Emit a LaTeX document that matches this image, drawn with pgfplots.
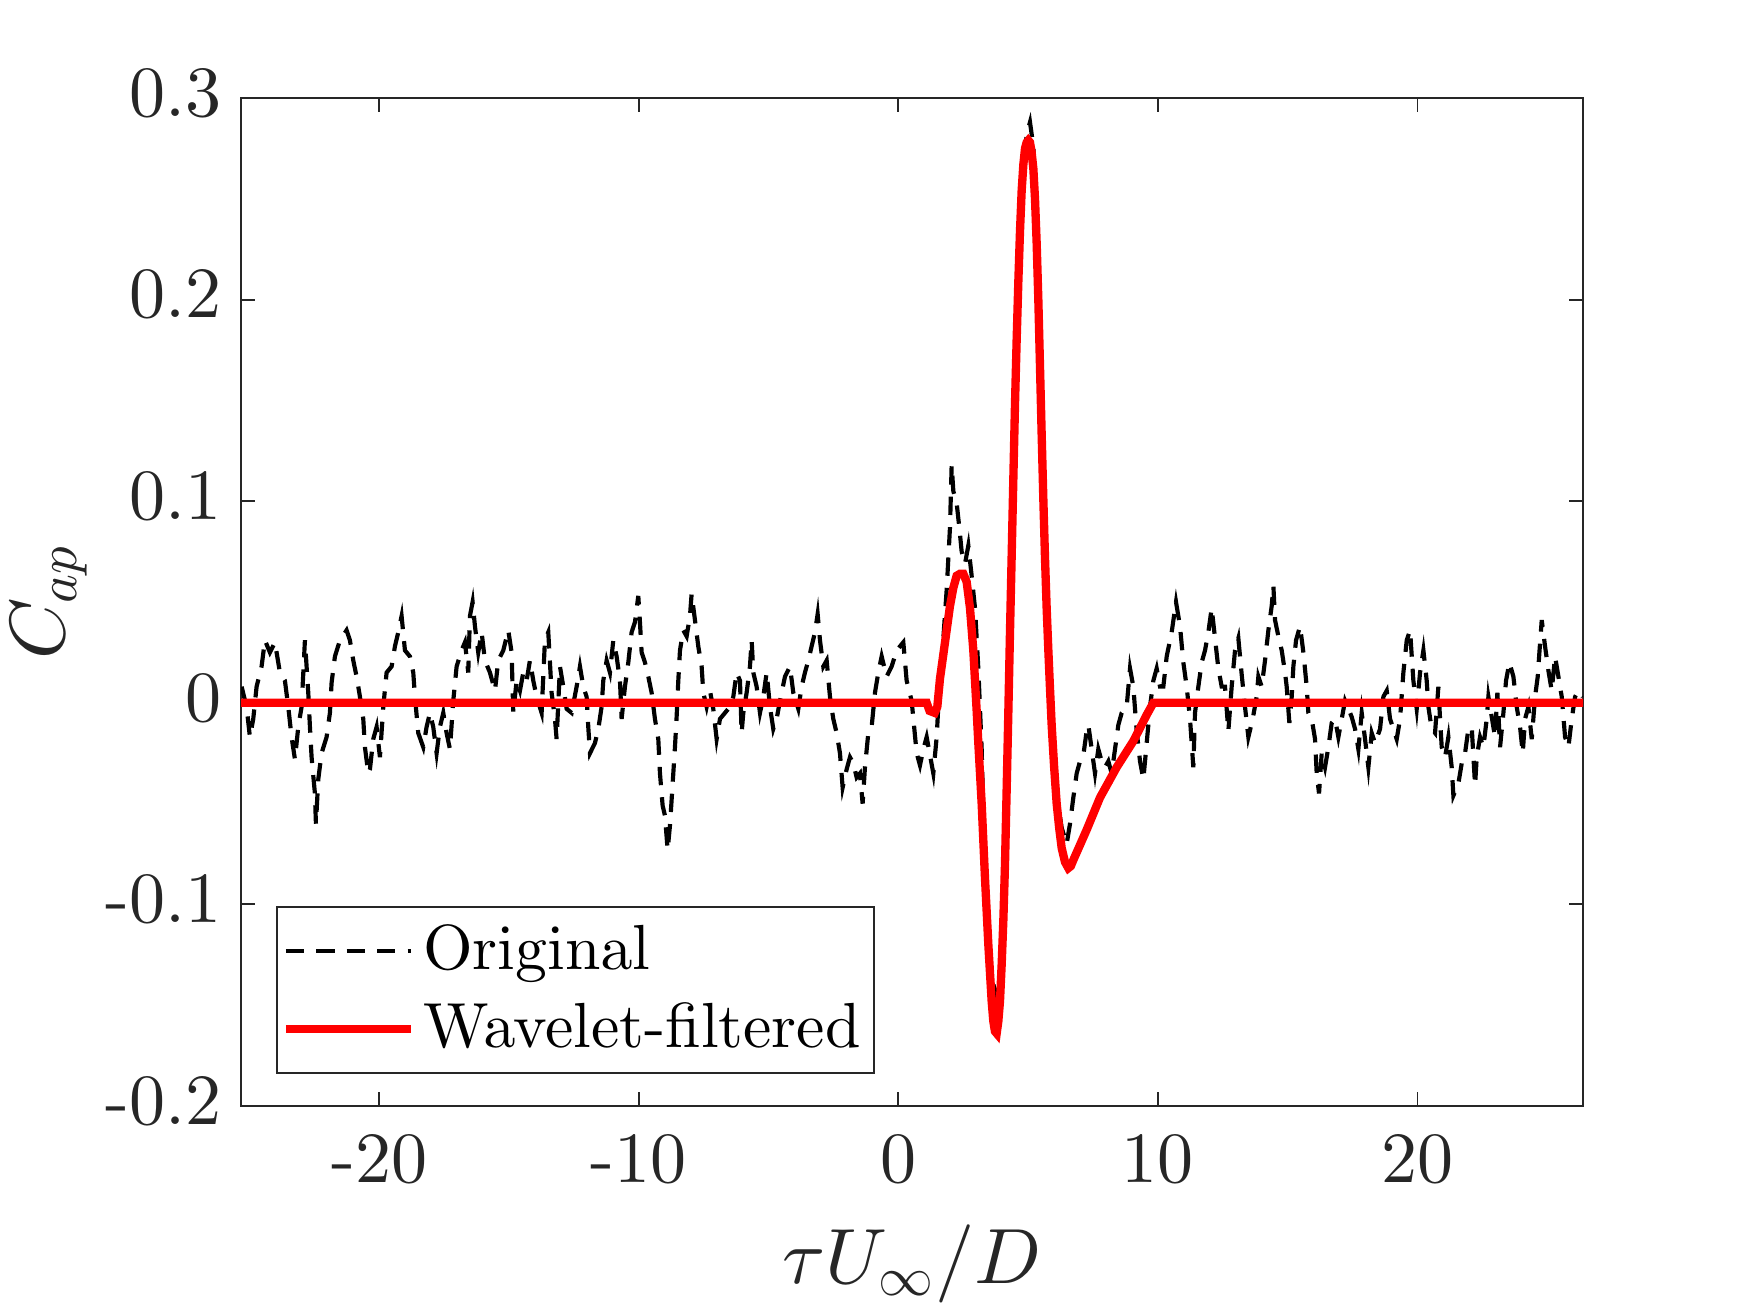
\documentclass[border=0pt]{standalone}
\usepackage{pgfplots}
\pgfplotsset{compat=1.18}
\DeclareFontShape{OML}{cmm}{m}{it}{<->cmmi10}{}
\DeclareFontShape{OMS}{cmsy}{m}{n}{<->cmsy10}{}
\DeclareFontShape{OT1}{cmr}{m}{n}{<->cmr10}{}
\font\tickfont=cmr10 at 17.3pt
\font\legfont=cmr10 at 15.3pt
\definecolor{axgray}{RGB}{38,38,38}
\pgfplotstableread{
x y
-25.307 0.008
-25.115 -0.002
-24.986 -0.017
-24.858 -0.008
-24.729 0.008
-24.537 0.018
-24.408 0.031
-24.216 0.025
-24.023 0.030
-23.830 0.015
-23.638 0.011
-23.509 -0.002
-23.381 -0.017
-23.252 -0.028
-23.124 -0.012
-22.995 -0.002
-22.867 0.031
-22.738 0.005
-22.674 -0.012
-22.610 -0.027
-22.482 -0.045
-22.443 -0.060
-22.353 -0.038
-22.225 -0.025
-22.032 -0.017
-21.904 -0.005
-21.839 0.010
-21.711 0.023
-21.518 0.031
-21.261 0.036
-21.133 0.031
-21.004 0.021
-20.876 0.013
-20.747 0.003
-20.619 -0.008
-20.555 -0.022
-20.426 -0.035
-20.362 -0.033
-20.234 -0.018
-20.105 -0.012
-19.977 -0.027
-19.848 -0.002
-19.720 0.015
-19.527 0.018
-19.399 0.028
-19.270 0.035
-19.142 0.043
-19.013 0.026
-18.821 0.023
-18.692 0.015
-18.628 0.003
-18.500 -0.015
-18.307 -0.022
-18.179 -0.012
-18.050 -0.005
-17.922 -0.012
-17.793 -0.025
-17.665 -0.012
-17.536 -0.005
-17.408 -0.015
-17.279 -0.023
-17.151 0.001
-17.022 0.018
-16.830 0.026
-16.701 0.030
-16.573 0.015
-16.509 0.043
-16.406 0.050
-16.316 0.038
-16.188 0.025
-16.059 0.035
-15.931 0.021
-15.738 0.015
-15.545 0.006
-15.417 0.021
-15.224 0.026
-15.032 0.036
-14.903 0.025
-14.839 -0.005
-14.710 0.011
-14.582 0.006
-14.453 0.015
-14.325 0.011
-14.197 0.021
-14.068 0.011
-13.940 0.003
-13.747 -0.005
-13.619 0.031
-13.490 0.035
-13.362 0.005
-13.233 -0.008
-13.169 -0.018
-13.040 0.018
-12.912 0.008
-12.783 -0.003
-12.591 -0.005
-12.398 0.008
-12.270 0.018
-12.141 0.008
-12.013 0.003
-11.949 -0.012
-11.884 -0.025
-11.692 -0.020
-11.563 -0.013
-11.435 -0.002
-11.371 0.011
-11.242 0.021
-11.114 0.015
-10.985 0.031
-10.857 0.023
-10.728 0.011
-10.664 -0.008
-10.536 0.008
-10.407 0.020
-10.279 0.035
-10.150 0.040
-10.022 0.053
-9.958 0.040
-9.893 0.025
-9.765 0.020
-9.636 0.013
-9.508 0.005
-9.380 -0.008
-9.251 -0.018
-9.187 -0.035
-9.084 -0.051
-8.994 -0.056
-8.891 -0.073
-8.802 -0.061
-8.737 -0.048
-8.673 -0.035
-8.609 -0.022
-8.545 -0.007
-8.480 0.011
-8.416 0.026
-8.288 0.036
-8.159 0.033
-8.031 0.043
-7.967 0.054
-7.838 0.041
-7.710 0.028
-7.581 0.018
-7.517 0.005
-7.389 -0.002
-7.260 0.006
-7.132 -0.003
-7.003 -0.018
-6.875 -0.008
-6.682 -0.005
-6.490 -0.002
-6.361 0.003
-6.233 0.015
-6.104 0.011
-6.040 -0.015
-5.976 -0.005
-5.847 0.005
-5.719 0.018
-5.654 0.031
-5.590 0.015
-5.462 0.008
-5.333 -0.005
-5.205 0.003
-5.076 0.015
-4.948 -0.002
-4.820 -0.013
-4.691 -0.008
-4.563 0.001
-4.370 0.013
-4.178 0.018
-4.049 0.005
-3.856 -0.003
-3.728 0.008
-3.600 0.015
-3.471 0.021
-3.343 0.028
-3.214 0.035
-3.111 0.044
-3.021 0.031
-2.893 0.018
-2.764 0.021
-2.636 0.003
-2.508 -0.008
-2.379 -0.015
-2.251 -0.025
-2.148 -0.042
-1.994 -0.033
-1.866 -0.027
-1.737 -0.030
-1.609 -0.037
-1.480 -0.035
-1.378 -0.050
-1.288 -0.032
-1.159 -0.015
-1.031 -0.012
-0.902 0.005
-0.774 0.015
-0.645 0.023
-0.453 0.013
-0.260 0.018
-0.067 0.026
0.190 0.030
0.318 0.011
0.511 0.001
0.704 -0.025
0.832 -0.031
0.961 -0.023
1.089 -0.017
1.218 -0.026
1.346 -0.035
1.475 -0.017
1.603 0.014
1.732 0.032
1.860 0.056
1.988 0.087
2.053 0.118
2.117 0.105
2.245 0.099
2.348 0.087
2.438 0.075
2.567 0.069
2.695 0.078
2.823 0.063
2.952 0.047
3.080 0.017
3.209 -0.023
3.337 -0.087
3.530 -0.127
3.722 -0.145
3.851 -0.140
3.979 -0.125
4.108 -0.081
4.236 -0.005
4.365 0.072
4.493 0.148
4.622 0.209
4.750 0.255
4.943 0.282
5.071 0.288
5.200 0.276
5.264 0.255
5.392 0.200
5.521 0.133
5.649 0.072
5.778 0.026
5.906 -0.011
6.099 -0.045
6.291 -0.062
6.484 -0.070
6.613 -0.060
6.741 -0.047
6.870 -0.035
6.998 -0.029
7.126 -0.026
7.255 -0.014
7.319 -0.011
7.448 -0.023
7.576 -0.035
7.704 -0.023
7.833 -0.029
7.962 -0.032
8.090 -0.029
8.218 -0.035
8.347 -0.023
8.475 -0.011
8.604 -0.005
8.796 -0.002
8.925 0.017
9.053 0.008
9.182 -0.014
9.310 -0.029
9.439 -0.038
9.567 -0.020
9.695 -0.002
9.824 0.011
9.952 0.017
10.081 0.008
10.209 0.008
10.338 0.023
10.530 0.035
10.697 0.050
10.851 0.038
10.980 0.020
11.108 0.008
11.237 -0.008
11.365 -0.032
11.429 -0.005
11.558 0.008
11.686 0.020
11.815 0.026
11.943 0.035
12.072 0.047
12.200 0.032
12.329 0.017
12.457 0.008
12.585 0.008
12.714 -0.014
12.842 0.008
12.971 0.026
13.099 0.032
13.228 0.014
13.356 -0.002
13.485 -0.017
13.652 -0.008
13.806 0.003
13.870 0.013
13.999 0.008
14.127 0.021
14.256 0.036
14.384 0.048
14.449 0.058
14.513 0.041
14.641 0.033
14.770 0.026
14.898 0.015
14.962 0.008
15.065 -0.010
15.155 0.003
15.219 0.018
15.322 0.031
15.476 0.038
15.605 0.025
15.733 0.008
15.797 -0.005
15.926 -0.008
16.054 -0.018
16.118 -0.035
16.208 -0.045
16.311 -0.025
16.439 -0.032
16.568 -0.022
16.696 -0.010
16.825 -0.008
16.953 -0.017
17.082 -0.008
17.210 0.001
17.339 -0.003
17.467 -0.007
17.596 -0.013
17.724 -0.023
17.852 -0.005
17.981 -0.018
18.109 -0.032
18.238 -0.015
18.366 -0.020
18.559 -0.013
18.687 0.003
18.816 0.006
18.944 -0.008
19.073 -0.013
19.201 -0.018
19.330 -0.008
19.458 0.015
19.587 0.031
19.715 0.036
19.843 0.011
19.972 -0.003
20.100 0.015
20.229 0.026
20.357 0.011
20.421 -0.002
20.550 -0.013
20.678 -0.015
20.807 0.008
20.871 -0.008
20.935 -0.022
21.064 -0.027
21.192 -0.017
21.321 -0.032
21.385 -0.046
21.578 -0.040
21.706 -0.030
21.834 -0.025
21.963 -0.013
22.091 -0.012
22.220 -0.041
22.284 -0.027
22.412 -0.017
22.541 -0.022
22.669 -0.008
22.734 0.003
22.862 -0.007
22.990 -0.017
23.080 0.005
23.183 -0.022
23.312 -0.005
23.414 0.011
23.543 0.020
23.697 0.013
23.825 -0.002
23.954 -0.012
24.057 -0.025
24.147 -0.008
24.275 -0.002
24.404 -0.018
24.532 0.003
24.635 0.013
24.699 0.025
24.789 0.041
24.917 0.028
25.046 0.016
25.174 0.006
25.303 0.023
25.431 0.013
25.560 0.003
25.688 -0.017
25.817 -0.022
25.945 -0.008
26.074 0.003
26.202 0.006
26.369 0.003
}\original
\pgfplotstableread{
x y
-25.33 0
1.09 0
1.20 -0.004
1.40 -0.005
1.50 -0.002
1.603 0.012
1.732 0.024
1.860 0.036
1.988 0.048
2.117 0.057
2.245 0.063
2.374 0.064
2.502 0.064
2.630 0.060
2.759 0.047
2.887 0.026
2.952 0.011
3.016 -0.004
3.080 -0.020
3.209 -0.050
3.337 -0.087
3.466 -0.120
3.594 -0.148
3.658 -0.158
3.722 -0.163
3.787 -0.164
3.851 -0.158
3.915 -0.148
3.979 -0.130
4.044 -0.108
4.108 -0.080
4.172 -0.043
4.236 -0.005
4.300 0.035
4.365 0.073
4.429 0.111
4.493 0.148
4.557 0.180
4.622 0.209
4.686 0.234
4.750 0.254
4.815 0.267
4.879 0.275
4.943 0.278
5.007 0.279
5.071 0.278
5.135 0.273
5.200 0.265
5.264 0.250
5.328 0.228
5.392 0.200
5.456 0.167
5.521 0.133
5.585 0.101
5.649 0.072
5.713 0.047
5.778 0.026
5.842 0.007
5.906 -0.011
6.002 -0.032
6.099 -0.050
6.195 -0.062
6.291 -0.072
6.420 -0.079
6.548 -0.082
6.645 -0.081
6.741 -0.078
7.255 -0.063
7.769 -0.047
8.411 -0.032
9.053 -0.019
9.567 -0.006
9.824 0
26.38 0
}\filtered
\begin{document}
\begin{tikzpicture}
\useasboundingbox (0,0) rectangle (420pt,315.12pt);
\begin{axis}[
  at={(57.84pt,49.68pt)}, anchor=south west,
  scale only axis, width=322.08pt, height=241.92pt,
  xmin=-25.33, xmax=26.38, ymin=-0.2, ymax=0.3,
  xtick={-20,-10,0,10,20}, xticklabels={-20,-10,0,10,20},
  ytick={-0.2,-0.1,0,0.1,0.2,0.3}, yticklabels={-0.2,-0.1,0,0.1,0.2,0.3},
  tick align=inside, major tick length=3.4pt,
  axis line style={axgray, line width=0.45pt},
  every tick/.style={axgray, line width=0.45pt},
  tick label style={font=\tickfont, text=axgray},
  xticklabel style={yshift=-3.6pt},
  yticklabel style={yshift=1.2pt, xshift=-1.1pt},
  xlabel={$\tau U_\infty/D$}, ylabel={$C_{ap}$},
  label style={font=\fontsize{18.8}{22}\selectfont, text=axgray},
  xlabel style={at={(axis description cs:0.5,-0.1759)}, anchor=base},
  ylabel style={at={(axis description cs:-0.172,0.5)}, anchor=north, inner sep=0pt},
  legend cell align=left,
  legend image code/.code={\draw[#1] (0pt,0pt) -- (30pt,0pt);},
  legend style={at={(axis description cs:0.0262,0.032)}, anchor=south west,
    draw=axgray, line width=0.45pt, fill=white, text=black,
    font=\legfont,
    inner xsep=1.1pt, inner ysep=2.5pt, row sep=2.6pt},
]
\addplot[black, line width=1pt, dash pattern=on 4.4pt off 2.9pt] table[x=x,y=y] {\original};
\addlegendentry{Original}
\addplot[red, line width=2pt] table[x=x,y=y] {\filtered};
\addlegendentry{Wavelet-filtered}
\end{axis}
\end{tikzpicture}
\end{document}
